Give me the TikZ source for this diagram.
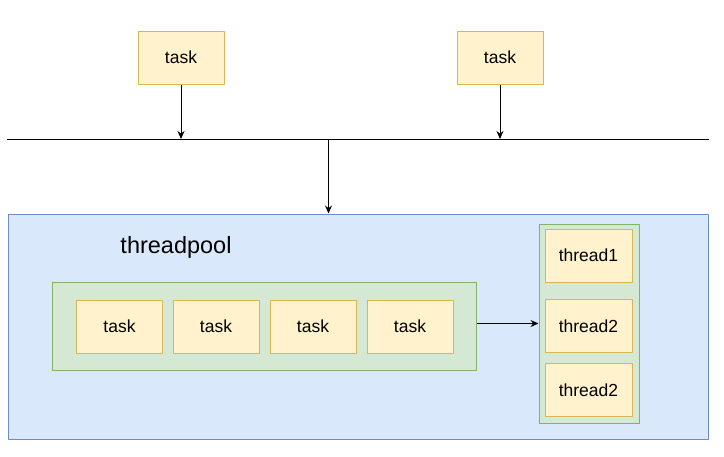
\documentclass[tikz,border=0pt]{standalone}
\usepackage{fontspec}
\setmainfont{Liberation Sans}
\usetikzlibrary{arrows.meta}
\definecolor{taskfill}{HTML}{FFF2CC}
\definecolor{taskline}{HTML}{D6B656}
\definecolor{poolfill}{HTML}{DAE8FC}
\definecolor{poolline}{HTML}{6C8EBF}
\definecolor{queuefill}{HTML}{D5E8D4}
\definecolor{queueline}{HTML}{82B366}
\begin{document}
\begin{tikzpicture}[x=1pt, y=-1pt, line width=1pt, line join=round, >={Stealth[length=8pt,width=7pt]},
		font=\fontsize{17.5}{20}\selectfont,
		taskbox/.style={draw=taskline, fill=taskfill, minimum width=86pt, minimum height=53pt, inner sep=0pt},
		poolbox/.style={draw=poolline, fill=poolfill, inner sep=0pt},
		queuebox/.style={draw=queueline, fill=queuefill, inner sep=0pt}]
			\useasboundingbox (0,0) rectangle (724,456);
			% incoming tasks and the bus
			\node[taskbox] (in1) at (181,57.5) {task};
			\node[taskbox] (in2) at (500,57.5) {task};
			\coordinate (busL) at (7,139);
			\coordinate (busR) at (709,139);
			\coordinate (drop) at (328.5,139);
			\draw (busL) -- (busR);
			\draw[->] (in1.south) -- (in1.south |- busL);
			\draw[->] (in2.south) -- (in2.south |- busL);
			% the pool
			\node[poolbox, minimum width=700pt, minimum height=225pt] (pool) at (358,326.5) {};
			\draw[->] (drop) -- (drop |- pool.north);
			\node[font=\fontsize{23.5}{27}\selectfont] (title) at (176,247) {threadpool};
			\node[queuebox, minimum width=424pt, minimum height=88pt] (queue) at (264,326) {};
			\foreach \i/\x in {1/119.5, 2/216, 3/313, 4/410}
				\node[taskbox] (q\i) at (\x,326.5) {task};
			\node[queuebox, minimum width=100pt, minimum height=199pt] (threads) at (589,323.5) {};
			\node[taskbox, minimum width=87pt] (th1) at (588.5,255.5) {thread1};
			\node[taskbox, minimum width=87pt] (th2) at (588.5,326) {thread2};
			\node[taskbox, minimum width=87pt] (th3) at (588.5,390) {thread2};
			\draw[->] (queue.east |- threads.west) -- (threads.west);
\end{tikzpicture}
\end{document}
